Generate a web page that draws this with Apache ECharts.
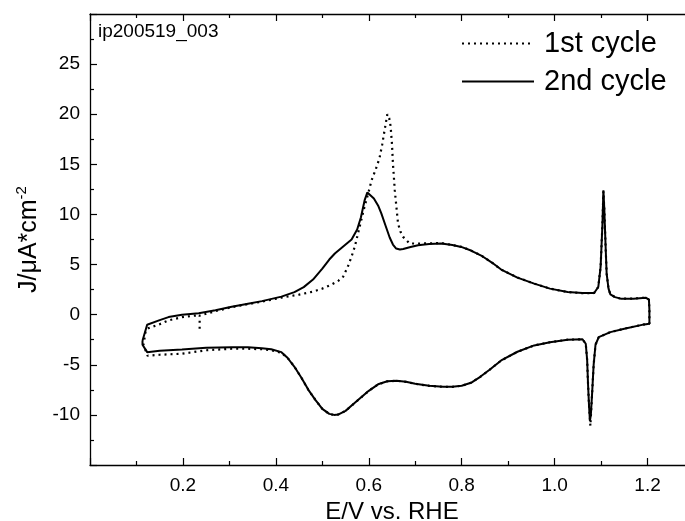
<!DOCTYPE html>
<html>
<head>
<meta charset="utf-8">
<script src="https://cdn.jsdelivr.net/npm/echarts@6/dist/echarts.min.js"></script>
<style>
  html, body { margin: 0; padding: 0; background: #fff; }
  #chart { width: 685px; height: 521px; }
</style>
</head>
<body>
<div id="chart"></div>
<script>
// 1st cycle (dotted) - potential E/V and current density J
var c1E = [0.236, 0.236, 0.27, 0.305, 0.34, 0.37, 0.412, 0.45, 0.48, 0.50, 0.52, 0.535, 0.545, 0.555, 0.563, 0.57, 0.58, 0.591, 0.60, 0.606, 0.615, 0.623, 0.629, 0.634, 0.64, 0.644, 0.647, 0.65, 0.652, 0.656, 0.66, 0.663, 0.668, 0.674, 0.688, 0.713, 0.756, 0.78, 0.80, 0.82, 0.842, 0.865, 0.885, 0.92, 0.956, 0.99, 1.028, 1.06, 1.085, 1.094, 1.099, 1.103, 1.105, 1.107, 1.108, 1.110, 1.112, 1.116, 1.12, 1.13, 1.142, 1.17, 1.196, 1.203,
  1.204, 1.204, 1.193, 1.15, 1.12, 1.095, 1.088, 1.084, 1.081, 1.078, 1.077, 1.074, 1.072, 1.07, 1.067, 1.06, 1.028, 0.99, 0.956, 0.92, 0.885, 0.86, 0.84, 0.82, 0.80, 0.78, 0.76, 0.73, 0.70, 0.68, 0.66, 0.64, 0.62, 0.60, 0.58, 0.565, 0.55, 0.535, 0.525, 0.515, 0.50, 0.485, 0.47, 0.455, 0.44, 0.425, 0.412, 0.39, 0.37, 0.34, 0.305, 0.25, 0.198, 0.15, 0.124, 0.115, 0.12, 0.126, 0.15, 0.169, 0.198, 0.225, 0.236];
var c1J = [-1.4, -0.1, 0.35, 0.75, 1.05, 1.3, 1.7, 2.0, 2.3, 2.6, 3.0, 3.4, 3.8, 4.8, 5.8, 6.8, 8.7, 10.8, 12.3, 13.4, 14.5, 15.6, 17.0, 18.4, 20.0, 19.6, 18.8, 17.0, 15.1, 12.4, 10.5, 9.1, 8.3, 7.76, 7.1, 7.1, 7.15, 6.95, 6.76, 6.4, 5.9, 5.2, 4.5, 3.7, 3.1, 2.6, 2.26, 2.15, 2.16, 2.76, 4.76, 9.1, 12.3, 10.5, 9.1, 6.5, 4.1, 2.6, 2.03, 1.75, 1.6, 1.6, 1.7, 1.5,
  0.5, -0.9, -0.97, -1.4, -1.74, -2.24, -3.0, -5.0, -7.6, -10.2, -11.1, -9.0, -7.0, -4.5, -2.9, -2.45, -2.5, -2.75, -3.07, -3.7, -4.57, -5.5, -6.2, -6.8, -7.1, -7.2, -7.2, -7.1, -6.9, -6.7, -6.6, -6.65, -6.95, -7.6, -8.4, -9.0, -9.6, -9.95, -10.0, -9.9, -9.4, -8.5, -7.5, -6.3, -5.2, -4.3, -3.8, -3.55, -3.45, -3.4, -3.4, -3.55, -3.9, -4.0, -4.1, -3.0, -1.6, -1.34, -0.95, -0.57, -0.25, -0.1, -0.05];

// 2nd cycle (solid)
var c2E = [0.113, 0.123, 0.15, 0.169, 0.198, 0.234, 0.27, 0.305, 0.34, 0.37, 0.412, 0.44, 0.46, 0.48, 0.50, 0.515, 0.527, 0.545, 0.563, 0.575, 0.583, 0.591, 0.597, 0.604, 0.611, 0.62, 0.627, 0.636, 0.645, 0.652, 0.659, 0.667, 0.674, 0.69, 0.706, 0.73, 0.756, 0.78, 0.799, 0.82, 0.842, 0.865, 0.885, 0.92, 0.956, 0.99, 1.028, 1.06, 1.085, 1.094, 1.099, 1.103, 1.105, 1.107, 1.108, 1.110, 1.112, 1.116, 1.12, 1.13, 1.142, 1.17, 1.196, 1.203,
  1.204, 1.204, 1.193, 1.15, 1.12, 1.095, 1.088, 1.084, 1.081, 1.078, 1.076, 1.074, 1.072, 1.07, 1.067, 1.06, 1.028, 0.99, 0.956, 0.92, 0.885, 0.86, 0.84, 0.82, 0.80, 0.78, 0.76, 0.73, 0.70, 0.68, 0.66, 0.64, 0.62, 0.60, 0.58, 0.565, 0.55, 0.535, 0.525, 0.515, 0.50, 0.485, 0.47, 0.455, 0.44, 0.425, 0.412, 0.39, 0.37, 0.34, 0.305, 0.25, 0.198, 0.15, 0.123, 0.113, 0.113];
var c2J = [-2.6, -1.0, -0.55, -0.24, 0.0, 0.15, 0.45, 0.8, 1.1, 1.35, 1.8, 2.25, 2.75, 3.5, 4.6, 5.5, 6.1, 6.8, 7.5, 8.5, 9.7, 11.4, 12.2, 11.9, 11.6, 10.9, 10.1, 8.9, 7.7, 7.0, 6.6, 6.5, 6.55, 6.75, 6.93, 7.05, 7.1, 6.95, 6.76, 6.4, 5.9, 5.2, 4.5, 3.7, 3.1, 2.6, 2.26, 2.15, 2.16, 2.76, 4.76, 9.1, 12.4, 10.5, 9.1, 6.5, 4.1, 2.6, 2.03, 1.75, 1.6, 1.6, 1.7, 1.5,
  0.5, -0.9, -0.97, -1.4, -1.74, -2.24, -3.0, -5.0, -7.6, -10.0, -10.6, -9.0, -7.0, -4.5, -2.9, -2.45, -2.5, -2.75, -3.07, -3.7, -4.57, -5.5, -6.2, -6.8, -7.1, -7.2, -7.2, -7.1, -6.9, -6.7, -6.6, -6.65, -6.95, -7.6, -8.4, -9.0, -9.6, -9.95, -10.0, -9.9, -9.4, -8.5, -7.5, -6.3, -5.2, -4.3, -3.74, -3.45, -3.34, -3.25, -3.24, -3.3, -3.47, -3.6, -3.74, -3.0, -2.6];

var seriesNames = ['1st cycle', '2nd cycle'];
var sampleName = 'ip200519_003';

function pairs(xs, ys) {
  var out = [];
  for (var i = 0; i < xs.length; i++) out.push([xs[i], ys[i]]);
  return out;
}

var font = 'Arial, "Liberation Sans", sans-serif';
var myChart = echarts.init(document.getElementById('chart'));

var axisCommon = {
  axisLine: { show: true, onZero: false, lineStyle: { color: '#000', width: 1.3 } },
  axisTick: { show: true, inside: true, length: 7, lineStyle: { color: '#000', width: 1.2 } },
  minorTick: { show: true, splitNumber: 2, length: 4, lineStyle: { color: '#000', width: 1.2 } },
  splitLine: { show: false },
  minorSplitLine: { show: false }
};

myChart.setOption({
  animation: false,
  backgroundColor: '#fff',
  title: {
    text: sampleName,
    left: 93, top: 17,
    textStyle: { fontFamily: font, fontSize: 19, fontWeight: 'normal', color: '#000' }
  },
  legend: {
    data: seriesNames,
    orient: 'vertical',
    left: 456, top: 24,
    itemWidth: 72, itemHeight: 12, itemGap: 9,
    itemStyle: { opacity: 0 },
    textStyle: { fontFamily: font, fontSize: 29, color: '#000', padding: [0, 0, 0, 5] }
  },
  grid: { left: 90, top: 14, right: -9, bottom: 56, containLabel: false, outerBoundsMode: 'none' },
  xAxis: [
    Object.assign({}, axisCommon, {
      type: 'value', min: 0, max: 1.3, interval: 0.2,
      name: 'E/V vs. RHE', nameLocation: 'middle', nameGap: 30,
      nameTextStyle: { fontFamily: font, fontSize: 24, color: '#000' },
      axisLabel: {
        fontFamily: font, fontSize: 19, color: '#000', margin: 11,
        showMinLabel: false, showMaxLabel: false,
        formatter: function (v) { return v.toFixed(1); }
      }
    }),
    Object.assign({}, axisCommon, {
      type: 'value', position: 'top', min: 0, max: 1.3, interval: 0.2,
      axisLabel: { show: false }
    })
  ],
  yAxis: Object.assign({}, axisCommon, {
    type: 'value', min: -15, max: 30, interval: 5,
    name: 'J/μA*cm{sup|-2}', nameLocation: 'middle', nameGap: 45, nameRotate: 90,
    nameTextStyle: {
      fontFamily: font, fontSize: 25, color: '#000',
      rich: { sup: { fontFamily: font, fontSize: 15, color: '#000', padding: [0, 0, 14, 0] } }
    },
    axisLabel: {
      fontFamily: font, fontSize: 19, color: '#000', margin: 10,
      showMinLabel: false, showMaxLabel: false
    }
  }),
  series: [
    {
      name: seriesNames[0], type: 'line', data: pairs(c1E, c1J),
      symbol: 'none', smooth: false,
      lineStyle: { color: '#000', width: 2.2, type: [2, 4] },
      itemStyle: { color: '#000' }
    },
    {
      name: seriesNames[1], type: 'line', data: pairs(c2E, c2J),
      symbol: 'none', smooth: false,
      lineStyle: { color: '#000', width: 2 },
      itemStyle: { color: '#000' }
    }
  ]
});
</script>
</body>
</html>
